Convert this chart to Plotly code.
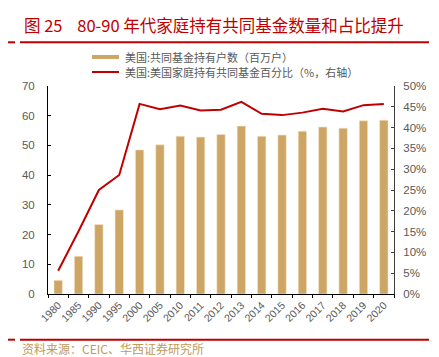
import plotly.graph_objects as go

years = ["1980", "1985", "1990", "1995", "2000", "2005", "2010", "2011", "2012", "2013",
         "2014", "2015", "2016", "2017", "2018", "2019", "2020"]
households = [4.6, 12.7, 23.4, 28.3, 48.5, 50.2, 53.1, 52.8, 53.7, 56.5,
              53.1, 53.5, 54.8, 56.2, 55.8, 58.3, 58.5]
share_pct = [5.6, 15.1, 25.0, 28.6, 45.7, 44.4, 45.3, 44.1, 44.3, 46.2,
             43.3, 43.0, 43.6, 44.5, 43.9, 45.4, 45.7]
left_ticks = [0, 10, 20, 30, 40, 50, 60, 70]
right_ticks = [0, 5, 10, 15, 20, 25, 30, 35, 40, 45, 50]

title_text = "图\u00a025\u00a0\u00a0\u00a0\u00a080-90\u00a0年代家庭持有共同基金数量和占比提升"
bar_name = "美国:共同基金持有户数（百万户）"
line_name = "美国:美国家庭持有共同基金百分比（%，右轴）"
source_text = "资料来源：CEIC、华西证券研究所"

W, H = 439, 357
L, R, T, B = 40, 386, 78, 286
BAR_C = "#CDA564"
RED = "#C00000"
GRAY = "#595959"
FONT = "Noto Sans CJK SC"


def px(x):
    return (x - L) / (R - L)


def py(y):
    return (B - y) / (B - T)


fig = go.Figure()
fig.add_trace(go.Bar(x=years, y=households, name=bar_name, marker_color=BAR_C,
                     marker_line=dict(color="#F3E6CC", width=0.6), width=0.41,
                     yaxis="y", showlegend=False))
fig.add_trace(go.Scatter(x=years, y=[v / 100 for v in share_pct], name=line_name,
                         mode="lines", line=dict(color=RED, width=2),
                         yaxis="y2", showlegend=False))

shapes = [
    # legend swatches
    dict(type="rect", xref="paper", yref="paper", x0=px(84), x1=px(111), y0=py(51), y1=py(47),
         fillcolor=BAR_C, line=dict(width=0)),
    dict(type="line", xref="paper", yref="paper", x0=px(84), x1=px(111), y0=py(64), y1=py(64),
         line=dict(color=RED, width=2)),
    # red rules
    dict(type="line", xref="paper", yref="paper", x0=px(0), x1=px(7), y0=py(34.3), y1=py(34.3),
         line=dict(color=RED, width=2)),
    dict(type="line", xref="paper", yref="paper", x0=px(12), x1=px(421), y0=py(34.3), y1=py(34.3),
         line=dict(color=RED, width=2)),
    dict(type="line", xref="paper", yref="paper", x0=px(0), x1=px(7), y0=py(331.7), y1=py(331.7),
         line=dict(color=RED, width=2)),
    dict(type="line", xref="paper", yref="paper", x0=px(12), x1=px(421), y0=py(331.7), y1=py(331.7),
         line=dict(color=RED, width=2)),
]

annotations = [
    dict(text=title_text, xref="paper", yref="paper", x=px(14), y=py(17), xanchor="left",
         yanchor="middle", showarrow=False, font=dict(family=FONT, size=16.5, color=RED)),
    dict(text=bar_name, xref="paper", yref="paper", x=px(115), y=py(49), xanchor="left",
         yanchor="middle", showarrow=False, font=dict(family=FONT, size=11, color=GRAY)),
    dict(text=line_name, xref="paper", yref="paper", x=px(115), y=py(64), xanchor="left",
         yanchor="middle", showarrow=False, font=dict(family=FONT, size=11, color=GRAY)),
    dict(text=source_text, xref="paper", yref="paper", x=px(12), y=py(340), xanchor="left",
         yanchor="middle", showarrow=False, font=dict(family=FONT, size=12, color="#C09A5B")),
]

fig.update_layout(
    width=W, height=H,
    margin=dict(l=L, r=W - R, t=T, b=H - B, pad=0),
    paper_bgcolor="white", plot_bgcolor="white",
    font=dict(family=FONT, color=GRAY, size=11),
    shapes=shapes,
    annotations=annotations,
    xaxis=dict(type="category", showline=True, linecolor="#000000", linewidth=1,
               ticks="outside", ticklen=3, tickcolor="#000000", tickson="boundaries",
               tickangle=-45, tickfont=dict(family="Liberation Sans, Arial", size=10.5, color=GRAY),
               showgrid=False, zeroline=False),
    yaxis=dict(range=[0, 70], tickvals=left_ticks, showline=True, linecolor="#000000",
               linewidth=1, ticks="inside", ticklen=3, tickcolor="#000000",
               tickfont=dict(family="Liberation Sans, Arial", size=11.5, color=GRAY),
               ticklabelstandoff=10, showgrid=False, zeroline=False),
    yaxis2=dict(range=[0, 0.5], tickvals=[v / 100 for v in right_ticks],
                ticktext=[f"{v}%" for v in right_ticks], overlaying="y", side="right",
                showline=True, linecolor="#404040", linewidth=1, ticks="inside", ticklen=3,
                tickcolor="#404040",
                tickfont=dict(family="Liberation Sans, Arial", size=11.5, color=GRAY),
                ticklabelstandoff=6, showgrid=False, zeroline=False),
)

fig.write_html("out.html")
